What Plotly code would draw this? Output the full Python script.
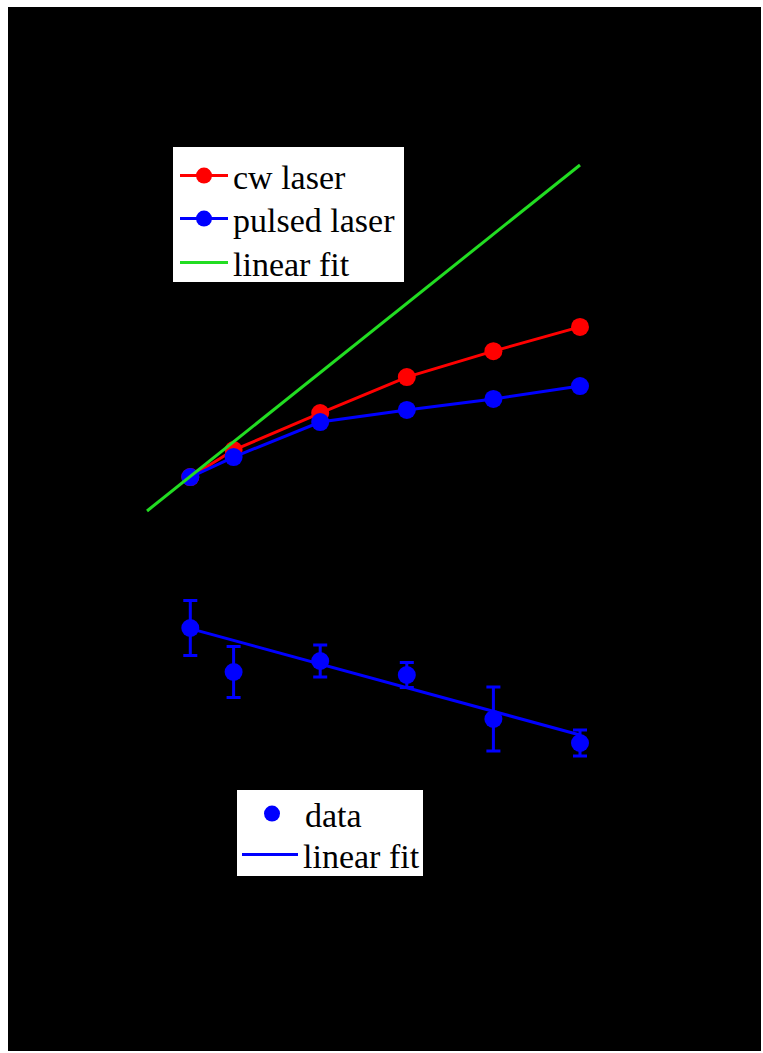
import plotly.graph_objects as go

W, H = 763, 1053

# top panel data (arbitrary units)
power = [1, 2, 4, 6, 8, 10]
cw_laser = [0.98, 1.76, 2.83, 3.87, 4.62, 5.32]
pulsed_laser = [0.98, 1.56, 2.57, 2.92, 3.24, 3.61]
fit_x = [0, 10]
fit_y = [0, 10]

# bottom panel data
data_y = [6.6, 4.4, 4.95, 4.25, 2.05, 0.85]
data_err = [1.375, 1.275, 0.8, 0.625, 1.6, 0.65]
fit2_x = [1, 10]
fit2_y = [6.57, 1.25]

def px(x):
    return x / W

def py(y):
    return 1 - y / H

FONT = "Liberation Serif, Times New Roman, serif"

fig = go.Figure()

fig.add_trace(go.Scatter(x=power, y=cw_laser, mode="lines+markers", name="cw laser",
                         line=dict(color="#ff0000", width=3),
                         marker=dict(color="#ff0000", size=18),
                         xaxis="x", yaxis="y", legend="legend", showlegend=True))
fig.add_trace(go.Scatter(x=power, y=pulsed_laser, mode="lines+markers", name="pulsed laser",
                         line=dict(color="#0000ff", width=3),
                         marker=dict(color="#0000ff", size=18),
                         xaxis="x", yaxis="y", legend="legend2", showlegend=True))
fig.add_trace(go.Scatter(x=fit_x, y=fit_y, mode="lines", name="linear fit",
                         line=dict(color="#22dd22", width=3),
                         xaxis="x", yaxis="y", legend="legend3", showlegend=True))

fig.add_trace(go.Scatter(x=power, y=data_y, mode="markers", name="data",
                         marker=dict(color="#0000ff", size=18),
                         error_y=dict(type="data", array=data_err, color="#0000ff",
                                      thickness=3, width=7),
                         xaxis="x2", yaxis="y2", legend="legend4", showlegend=True))
fig.add_trace(go.Scatter(x=fit2_x, y=fit2_y, mode="lines", name="linear fit",
                         line=dict(color="#0000ff", width=3),
                         xaxis="x2", yaxis="y2", legend="legend5", showlegend=True))

ax_common = dict(showline=False, showgrid=False, zeroline=False, showticklabels=False, ticks="")

x_dom = [px(100), px(650)]
x_rng = [(100 - 147) / 43.3, (650 - 147) / 43.3]

def leg(x, y, iw):
    return dict(x=px(x), y=py(y), xanchor="left", yanchor="middle",
                bgcolor="rgba(0,0,0,0)", font=dict(family=FONT, size=34, color="black"),
                itemwidth=iw, borderwidth=0, visible=True)

fig.update_layout(
    width=W, height=H,
    showlegend=True,
    margin=dict(l=0, r=0, t=0, b=0),
    paper_bgcolor="white",
    plot_bgcolor="rgba(0,0,0,0)",
    xaxis=dict(domain=x_dom, range=x_rng, anchor="y", **ax_common),
    yaxis=dict(domain=[py(540), py(100)], range=[(511 - 540) / 34.6, (511 - 100) / 34.6], anchor="x", **ax_common),
    xaxis2=dict(domain=x_dom, range=x_rng, anchor="y2", **ax_common),
    yaxis2=dict(domain=[py(780), py(560)], range=[(760 - 780) / 20, (760 - 560) / 20], anchor="x2", **ax_common),
    legend=leg(175, 176, 48),
    legend2=leg(175, 219, 48),
    legend3=leg(175, 263, 48),
    legend4=leg(239, 814, 56),
    legend5=leg(237, 855, 56),
    shapes=[
        dict(type="rect", xref="paper", yref="paper",
             x0=px(8), x1=px(761), y0=py(1051), y1=py(7),
             fillcolor="black", line=dict(width=0), layer="below"),
        dict(type="rect", xref="paper", yref="paper",
             x0=px(173), x1=px(404), y0=py(282), y1=py(147),
             fillcolor="white", line=dict(width=0), layer="below"),
        dict(type="rect", xref="paper", yref="paper",
             x0=px(237), x1=px(423), y0=py(876), y1=py(790),
             fillcolor="white", line=dict(width=0), layer="below"),
    ],
)

fig.write_html("out.html")
